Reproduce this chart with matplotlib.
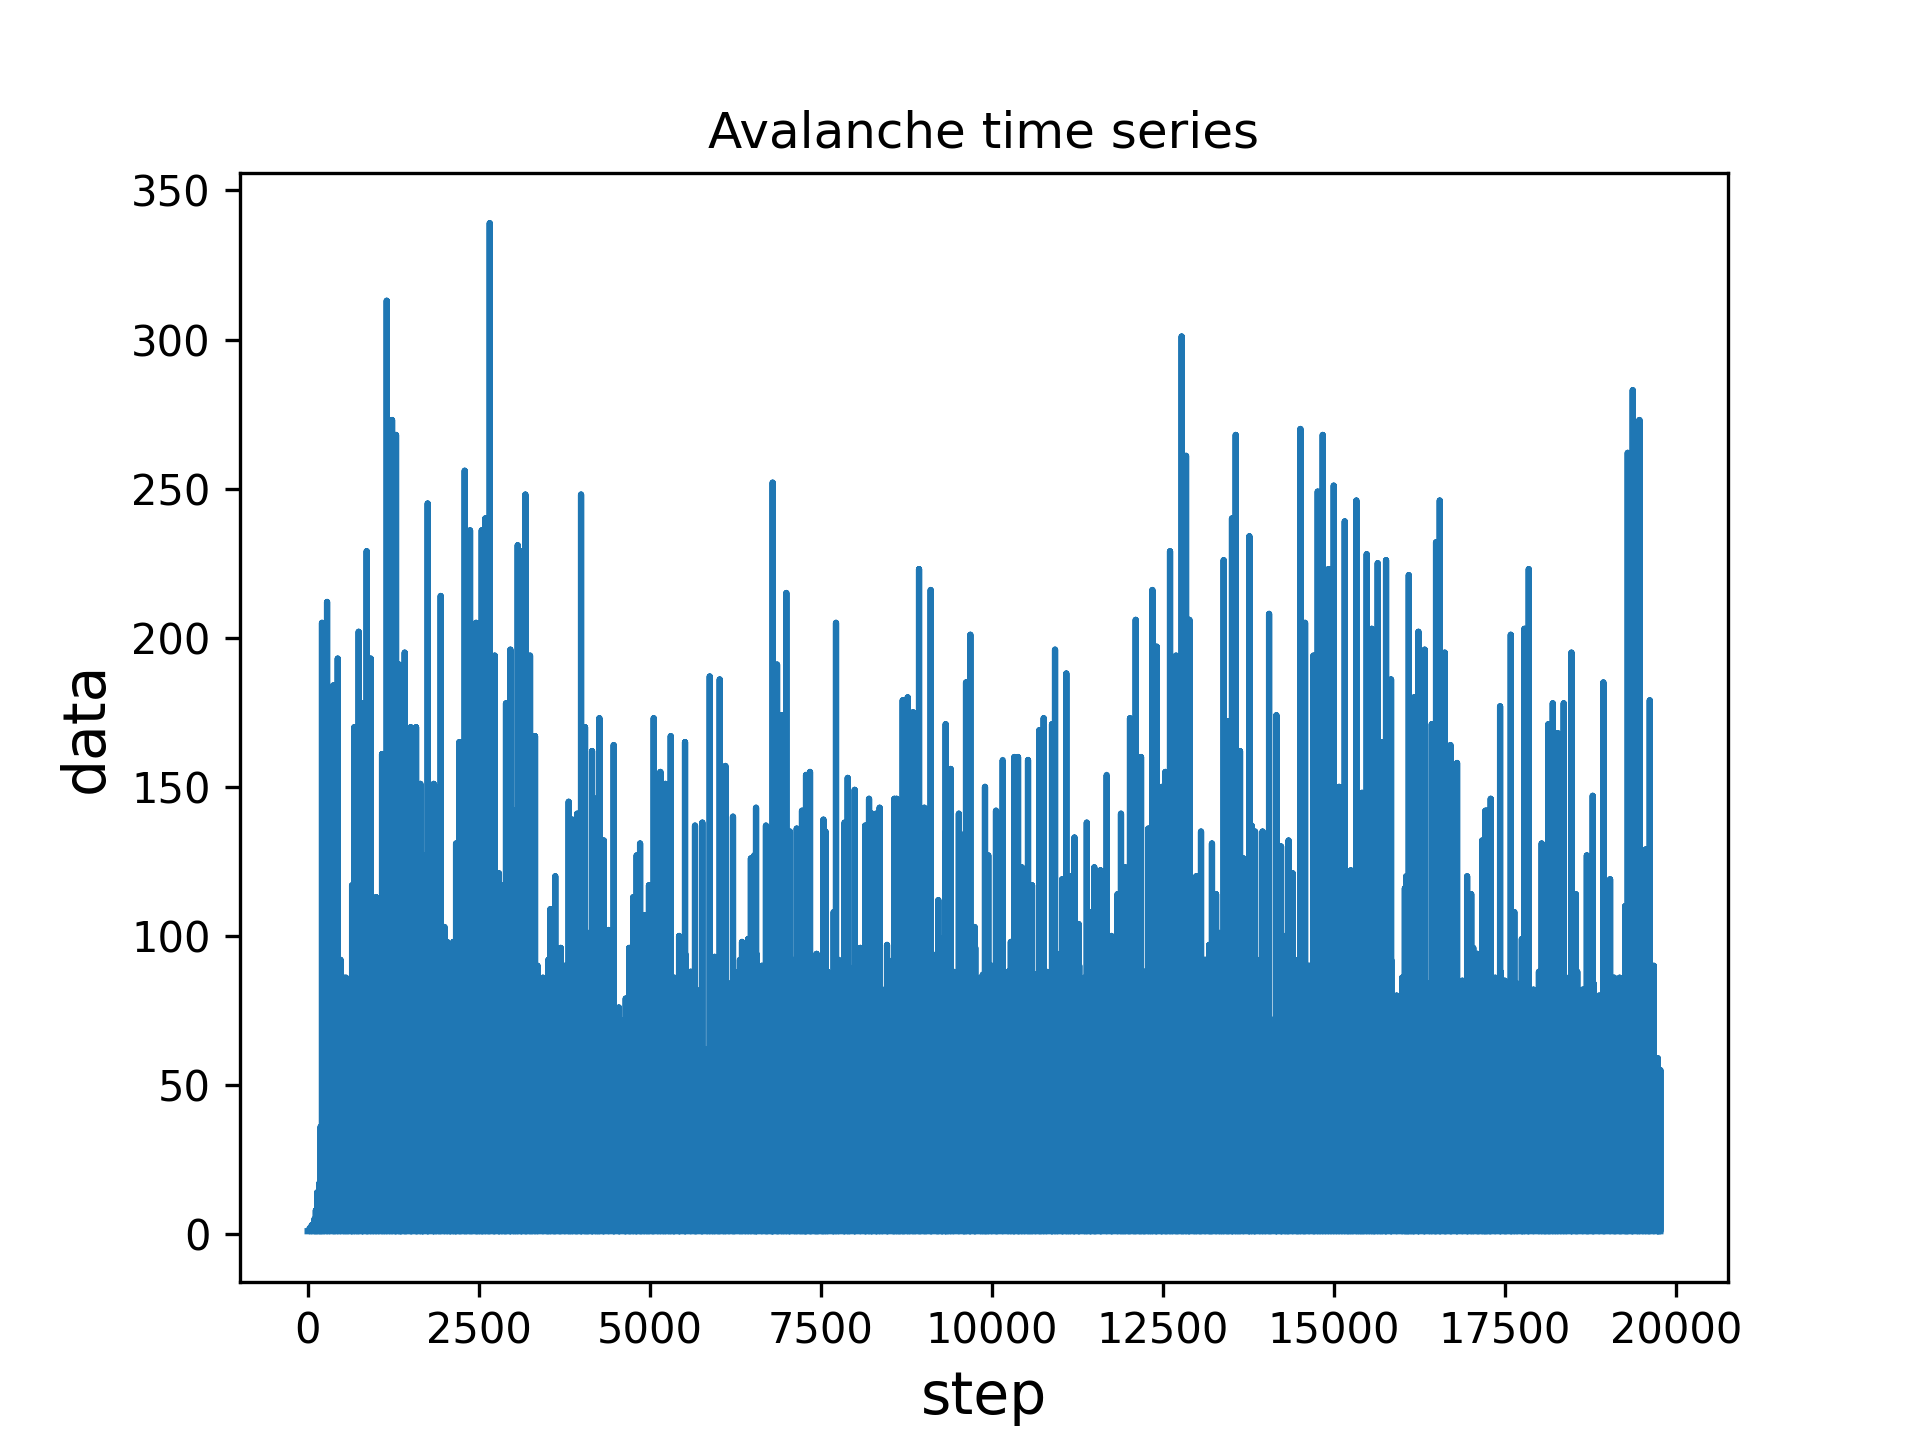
import numpy as np
import matplotlib.pyplot as plt

# start of the run, before the first big avalanche
start_steps = [0, 30, 60, 100, 120, 140, 170, 190]
start_values = [1, 2, 3, 5, 8, 14, 17, 36]

# big peaks
peak_steps = [210, 284, 376, 440, 683, 746, 805, 863, 922, 1088, 1156, 1234, 1292, 1336, 1365, 1419, 1507, 1585,
              1648, 1755, 1843, 1877, 1945, 2218, 2296, 2374, 2462, 2511, 2545, 2598, 2662, 2735, 2900, 2964, 3012,
              3071, 3129, 3183, 3251, 3324, 3816, 3997, 4055, 4158, 4211, 4265, 4474, 5059, 5157, 5230, 5308, 5517,
              5878, 6024, 6107, 6555, 6798, 6862, 6930, 6998, 7227, 7286, 7344, 7724, 7895, 7997, 8207, 8362, 8577,
              8699, 8772, 8850, 8938, 9015, 9108, 9327, 9400, 9625, 9688, 9902, 10063, 10161, 10331, 10385, 10531,
              10697, 10760, 10882, 10926, 11091, 11681, 12022, 12105, 12183, 12349, 12412, 12490, 12539, 12607,
              12695, 12777, 12841, 12890, 13391, 13464, 13513, 13567, 13630, 13767, 14055, 14162, 14513, 14581,
              14703, 14766, 14839, 14922, 15000, 15078, 15161, 15331, 15414, 15482, 15556, 15585, 15643, 15707,
              15765, 15838, 16097, 16174, 16238, 16330, 16433, 16496, 16550, 16623, 16706, 16803, 17217, 17295,
              17432, 17588, 17788, 17851, 18138, 18202, 18275, 18362, 18475, 18786, 18942, 19298, 19371, 19469, 19620]
peak_values = [205, 212, 184, 193, 170, 202, 178, 229, 193, 161, 313, 273, 268, 191, 174, 195, 170, 170,
               151, 245, 151, 150, 214, 165, 256, 236, 205, 201, 236, 240, 339, 194, 178, 196, 142,
               231, 229, 248, 194, 167, 145, 248, 170, 162, 146, 173, 164, 173, 155, 151, 167, 165,
               187, 186, 157, 143, 252, 191, 174, 215, 142, 154, 155, 205, 153, 149, 146, 143, 146,
               179, 180, 175, 223, 143, 216, 171, 156, 185, 201, 150, 142, 159, 160, 160, 159,
               169, 173, 171, 196, 188, 154, 173, 206, 160, 216, 197, 150, 155, 229,
               194, 301, 261, 206, 226, 172, 240, 268, 162, 234, 208, 174, 270, 205,
               194, 249, 268, 223, 251, 150, 239, 246, 148, 228, 203, 195, 225, 165,
               226, 186, 221, 180, 202, 196, 171, 232, 246, 195, 164, 158, 142, 146,
               177, 201, 203, 223, 171, 178, 168, 178, 195, 147, 185, 262, 283, 273, 179]

# smaller peaks
mid_steps = [530, 590, 650, 1000, 1685, 2000, 2040, 2090, 2130, 2170, 2796, 2840, 3500, 3550, 3620, 3700, 3760, 3870,
             3940, 4100, 4330, 4400, 4550, 4650, 4700, 4760, 4810, 4860, 4920, 4990, 5200, 5350, 5430, 5663, 5770,
             5950, 6218, 6350, 6440, 6480, 6530, 6700, 6780, 7050, 7150, 7260, 7420, 7460, 7540, 7570, 7690, 7850,
             8150, 8250, 8310, 8470, 8610, 8660, 9220, 9270, 9330, 9520, 9590, 9750, 9870, 9950, 10280, 10440, 10480,
             10590, 10640, 10800, 11030, 11150, 11210, 11270, 11390, 11450, 11500, 11590, 11750, 11840, 11890, 11950,
             12220, 12290, 12990, 13060, 13180, 13220, 13280, 13330, 13680, 13800, 13850, 13960, 14230, 14290, 14340,
             14400, 14460, 14640, 15220, 15250, 15390, 16040, 16060, 16130, 16880, 16950, 17010, 17100, 17170, 17240,
             17500, 17640, 17680, 17750, 18040, 18100, 18540, 18700, 19040, 19100, 19180, 19260, 19560, 19680, 19737,
             19775]
mid_values = [86, 85, 117, 113, 127, 103, 98, 92, 98, 131, 121, 117, 83, 109, 120, 96, 90, 139,
              141, 101, 132, 102, 76, 79, 96, 113, 127, 131, 107, 117, 110, 73, 100, 137, 138,
              93, 140, 98, 99, 126, 127, 137, 109, 135, 136, 142, 78, 79, 139, 135, 108, 138,
              137, 141, 141, 97, 146, 129, 112, 99, 135, 141, 134, 103, 87, 127, 98, 123, 112,
              117, 87, 87, 119, 120, 133, 104, 138, 108, 123, 122, 100, 114, 141, 123,
              81, 136, 120, 135, 97, 131, 114, 101, 126, 137, 135, 135, 130, 100, 132,
              121, 85, 86, 112, 122, 138, 116, 120, 127, 85, 120, 114, 94, 132, 142,
              85, 108, 83, 99, 131, 116, 114, 127, 119, 86, 86, 110, 129, 90, 59,
              55]

# the solid band underneath, one value every 80 steps
floor_start = 240
floor_gap = 80
floor_values = [80, 88, 84, 92, 86, 78, 90, 96, 82, 88, 94, 86, 90, 84, 98, 80, 88, 92, 86, 94,
                82, 90, 88, 84, 96, 78, 92, 86, 90, 82, 88, 94, 80, 86, 92, 88, 84, 96, 82, 90,
                86, 92, 80, 88, 84, 94, 78, 90, 86, 82, 92, 88, 78, 72, 66, 72, 86, 94, 82, 88,
                76, 92, 84, 90, 86, 80, 94, 88, 82, 76, 62, 76, 84, 96, 84, 88, 92, 80, 86, 94,
                90, 82, 88, 84, 96, 80, 92, 86, 90, 78, 94, 84, 88, 82, 92, 86, 80, 90, 96, 84,
                88, 94, 82, 86, 92, 78, 90, 84, 96, 80, 88, 86, 94, 82, 90, 88, 80, 92, 84, 96,
                86, 78, 90, 94, 82, 88, 92, 84, 80, 96, 86, 90, 88, 82, 94, 78, 92, 84, 90, 86,
                80, 96, 62, 82, 92, 86, 94, 90, 78, 84, 88, 92, 82, 96, 86, 80, 90, 94, 84, 88,
                82, 92, 86, 78, 96, 90, 84, 88, 94, 80, 86, 92, 70, 72, 88, 84, 96, 78, 92, 86,
                90, 82, 94, 88, 80, 84, 76, 68, 70, 78, 90, 88, 82, 94, 84, 92, 80, 86, 90, 96,
                88, 82, 84, 92, 78, 94, 86, 90, 80, 88, 96, 56, 82, 92, 86, 88, 72, 90, 84, 80,
                86, 82, 88, 78, 84, 90, 80, 86, 74, 88, 82, 76, 84, 80, 88, 78, 74, 84, 80, 76,
                82, 78, 76, 70]
floor_steps = [floor_start + floor_gap * i for i in range(len(floor_values))]

steps = np.array(start_steps + peak_steps + mid_steps + floor_steps)
values = np.array(start_values + peak_values + mid_values + floor_values)
order = np.argsort(steps, kind='stable')
steps = steps[order]
values = values[order]

# every avalanche goes back down to 1 before the next one
x = []
y = []
for s, v in zip(steps, values):
    x += [s, s, s]
    y += [1, v, 1]

plt.figure(dpi=300)
plt.plot(x, y)
plt.title('Avalanche time series', fontsize=12)
plt.xlabel('step', fontsize=14)
plt.ylabel('data', fontsize=14)
plt.savefig('out.png', dpi=300)
